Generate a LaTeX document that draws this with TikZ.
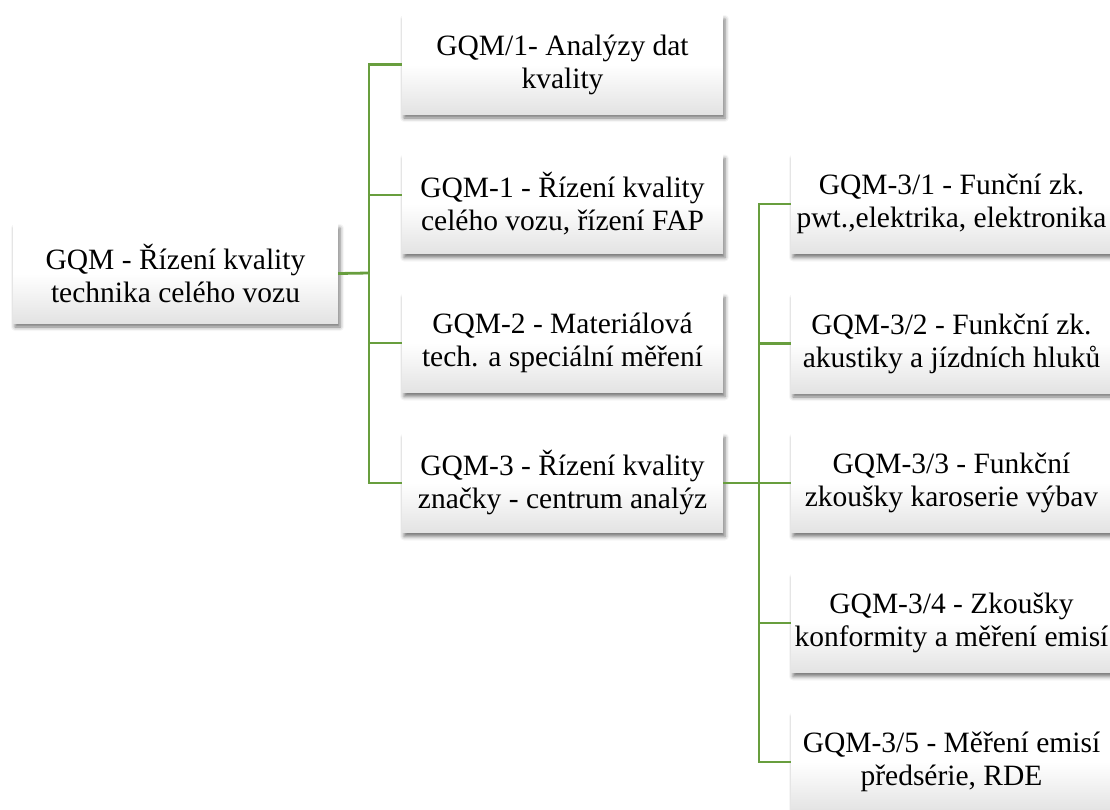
\documentclass[tikz,border=0pt]{standalone}
\usepackage{fontspec}
\setmainfont{Liberation Serif}
\usetikzlibrary{shadows.blur}
\definecolor{linkgreen}{RGB}{104,158,62}
\tikzset{
  orgbox/.style={
    rectangle, inner sep=0pt, minimum height=99pt, minimum width=321pt,
    align=center, top color=white, bottom color=black!11, middle color=white,
    font=\fontsize{29.5}{33}\selectfont,
    blur shadow={shadow xshift=2pt, shadow yshift=-4pt,
                 shadow blur radius=4pt, shadow opacity=55}
  },
  link/.style={draw=linkgreen, line width=2.8pt}
}
\begin{document}
\begin{tikzpicture}[x=1pt, y=-1pt]
\useasboundingbox (0,0) rectangle (1110,809);

% root
\node[orgbox, minimum width=325pt] (root) at (175.5,273.5) {GQM - Řízení kvality\\technika celého vozu};

% first level
\node[orgbox] (b1) at (562.5,64.5) {GQM/1- Analýzy dat\\kvality};
\node[orgbox] (b2) at (562.5,204) {GQM-1 - Řízení kvality\\celého vozu, řízení FAP};
\node[orgbox] (b3) at (562.5,343) {GQM-2 - Materiálová\\tech. a speciální měření};
\node[orgbox] (b4) at (562.5,483) {GQM-3 - Řízení kvality\\značky - centrum analýz};

% second level under GQM-3
\node[orgbox] (c1) at (951.5,204) {GQM-3/1 - Funční zk.\\pwt.,elektrika, elektronika};
\node[orgbox] (c2) at (951.5,343.5) {GQM-3/2 - Funkční zk.\\akustiky a jízdních hluků};
\node[orgbox] (c3) at (951.5,483) {GQM-3/3 - Funkční\\zkoušky karoserie výbav};
\node[orgbox] (c4) at (951.5,623) {GQM-3/4 - Zkoušky\\konformity a měření emisí};
\node[orgbox] (c5) at (951.5,762) {GQM-3/5 - Měření emisí\\předsérie, RDE};

% connectors
\coordinate (v1) at (369,273);
\coordinate (b2in) at ([yshift=9pt]b2.west);
\draw[link] (root.east) -- (v1);
\draw[link] (b1.west) -| (v1) |- (b4.west);
\draw[link] (v1 |- b2in) -- (b2in);
\draw[link] (v1 |- b3.west) -- (b3.west);

\coordinate (v2) at (759,483);
\draw[link] (b4.east) -- (v2);
\draw[link] (c1.west) -| (v2) |- (c5.west);
\draw[link] (v2 |- c2.west) -- (c2.west);
\draw[link] (v2 |- c3.west) -- (c3.west);
\draw[link] (v2 |- c4.west) -- (c4.west);
\end{tikzpicture}
\end{document}
